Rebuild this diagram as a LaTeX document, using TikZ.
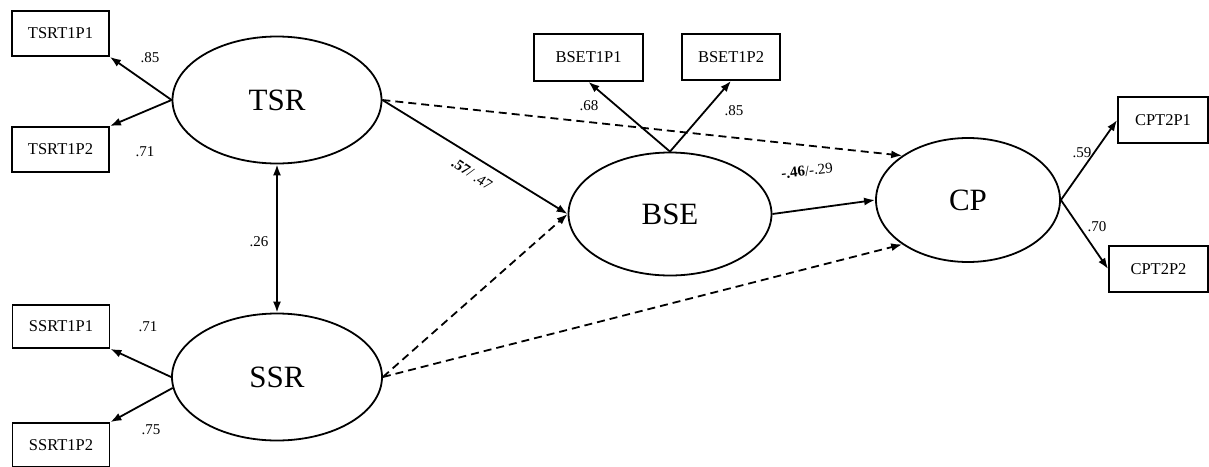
\documentclass[tikz,border=0pt]{standalone}
\usepackage{fontspec}
\setmainfont{Liberation Serif}
\usetikzlibrary{shapes.geometric,arrows.meta}
\begin{document}
\begin{tikzpicture}[x=1pt,y=-1pt,
  latent/.style={draw,ellipse,line width=1.8pt,inner sep=0pt,font=\fontsize{31}{33}\selectfont},
  indic/.style={draw,rectangle,line width=1.8pt,inner sep=0pt,minimum width=97pt,minimum height=45pt,font=\fontsize{16.5}{18}\selectfont},
  path/.style={line width=1.8pt,-{Latex[length=11pt,width=8pt]}},
  dpath/.style={path,dash pattern=on 8pt off 5pt},
  coef/.style={font=\fontsize{15}{17}\selectfont,inner sep=1pt}]
\useasboundingbox (0,0) rectangle (1209,466);
% latent variables
\node[latent,minimum width=209pt,minimum height=127pt] (TSR) at (277,100) {TSR};
\node[latent,minimum width=210pt,minimum height=127pt] (SSR) at (277,377) {SSR};
\node[latent,minimum width=203pt,minimum height=123pt] (BSE) at (670,214) {BSE};
\node[latent,minimum width=184pt,minimum height=124pt] (CP) at (968,200) {CP};
% indicators
\node[indic] (t1) at (60.5,33.5) {TSRT1P1};
\node[indic] (t2) at (60.5,149.5) {TSRT1P2};
\node[indic,minimum height=43pt] (s1) at (61,326.5) {SSRT1P1};
\node[indic,minimum height=44pt] (s2) at (61,445) {SSRT1P2};
\node[indic,minimum width=109pt,minimum height=47pt] (b1) at (588.5,57.5) {BSET1P1};
\node[indic,minimum width=98pt,minimum height=46pt] (b2) at (731,57) {BSET1P2};
\node[indic,minimum width=90pt,minimum height=46pt] (c1) at (1163,120) {CPT2P1};
\node[indic,minimum width=99pt,minimum height=46pt] (c2) at (1158.5,269) {CPT2P2};
% measurement paths
\draw[path] (TSR.west) -- (t1.south east);
\draw[path] (TSR.west) -- (t2.north east);
\draw[path] (SSR.west) -- (s1.south east);
\draw[path] (SSR.186) -- (s2.north east);
\draw[path] (BSE.north) -- (b1.south);
\draw[path] (BSE.north) -- (b2.south);
\draw[path] (CP.east) -- (c1.west);
\draw[path] (CP.east) -- (c2.west);
% structural paths
\draw[line width=1.8pt,{Latex[length=11pt,width=8pt]}-{Latex[length=11pt,width=8pt]}] (TSR.south) -- (SSR.north);
\draw[path] (TSR.east) -- (BSE.west);
\draw[dpath] (TSR.east) -- (CP.146);
\draw[dpath] (SSR.east) -- (BSE.west);
\draw[dpath] (SSR.east) -- (CP.214);
\draw[path] (BSE.east) -- (CP.west);
% coefficients
\node[coef] (l1) at (150,58) {.85};
\node[coef] (l2) at (145,152) {.71};
\node[coef] (l3) at (148,327) {.71};
\node[coef] (l4) at (151,430) {.75};
\node[coef] (l5) at (589,106) {.68};
\node[coef] (l6) at (734,111) {.85};
\node[coef] (l7) at (1082,153) {.59};
\node[coef] (l8) at (1097,227) {.70};
\node[coef] (l9) at (259,242) {.26};
\node[coef,rotate=-34] (l10) at (472,174) {\textbf{.57}/ .47};
\node[coef,rotate=7] (l11) at (807,171) {\textbf{-.46}/-.29};
\end{tikzpicture}
\end{document}
